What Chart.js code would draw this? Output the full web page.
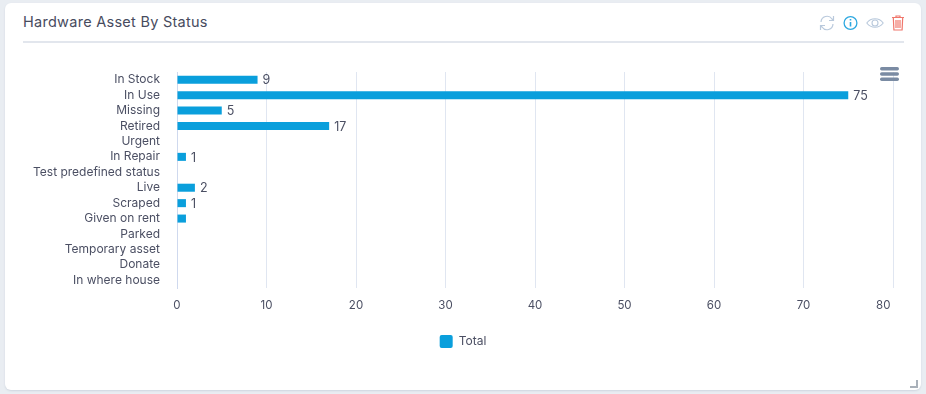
<!DOCTYPE html>
<html>
<head>
<meta charset="utf-8">
<title>Hardware Asset By Status</title>
<script src="https://cdn.jsdelivr.net/npm/chart.js@4"></script>
<style>
    html, body { margin: 0; padding: 0; width: 926px; height: 394px; overflow: hidden; background: #e9edf2; font-family: Inter, sans-serif; }
    .card { position: absolute; left: 5px; top: 3px; width: 916px; height: 387px; background: #fff; border-radius: 6px; box-shadow: 0 1px 2px #cfd6df; }
    .title { position: absolute; left: 23px; top: 12px; font-size: 14.5px; line-height: 20px; color: #474b5e; letter-spacing: .27px; white-space: nowrap; }
    .divider { position: absolute; left: 23px; top: 41px; width: 881px; height: 2px; background: #e2e6ed; }
    .chart-box { position: absolute; left: 0; top: 0; width: 926px; height: 394px; }
    .icon { position: absolute; top: 14px; }
    .menu { position: absolute; left: 880px; top: 66px; }
    .grip { position: absolute; left: 910px; top: 380px; }
</style>
</head>
<body>
<div class="card"></div>
<div class="title">Hardware Asset By Status</div>
<div class="divider"></div>
<div class="chart-box"><canvas id="statusChart" width="926" height="394"></canvas></div>

<!-- 상단 아이콘 -->
<svg class="icon" style="left:819px" width="16" height="18" viewBox="0 0 16 18" fill="none" stroke="#b9c9dc" stroke-width="1.2">
    <path d="M2 8a6 6 0 0 1 11-3l1.5 1.5M14.5 2v4.5H10M14 10a6 6 0 0 1-11 3l-1.5-1.5M1.5 16v-4.5H6"/>
</svg>
<svg class="icon" style="left:843px" width="15" height="18" viewBox="0 0 15 18" fill="none" stroke="#2da8e0" stroke-width="1.3">
    <circle cx="7.5" cy="9" r="6.4"/><path d="M7.5 8v4.5M7.5 5v1.5" stroke-width="1.6"/>
</svg>
<svg class="icon" style="left:866px" width="18" height="18" viewBox="0 0 18 18" fill="none" stroke="#b9c9dc" stroke-width="1.1">
    <path d="M.8 9C3 6 6 4.8 9 4.8S15 6 17.2 9C15 12 12 13.2 9 13.2S3 12 .8 9z"/><circle cx="9" cy="9" r="3"/>
</svg>
<svg class="icon" style="left:891px" width="14" height="18" viewBox="0 0 14 18" fill="none" stroke="#f0776c" stroke-width="1.2">
    <path d="M1 3.5h12M5 3.5V2h4v1.5M2.3 3.5l.6 12.5h8.2l.6-12.5M5 6v8M7 6v8M9 6v8"/>
</svg>
<svg class="menu" width="20" height="16" viewBox="0 0 20 16" fill="#7a8ba3">
    <rect y="1" width="19" height="3.4" rx="1.7"/><rect y="6.3" width="19" height="3.4" rx="1.7"/><rect y="11.6" width="19" height="3.4" rx="1.7"/>
</svg>
<svg class="grip" width="8" height="8" viewBox="0 0 8 8" fill="#a9b1ba"><path d="M6 0h2v8H0V6h6z"/></svg>

<script>
// 차트 데이터
const categories = ['In Stock', 'In Use', 'Missing', 'Retired', 'Urgent', 'In Repair', 'Test predefined status',
    'Live', 'Scraped', 'Given on rent', 'Parked', 'Temporary asset', 'Donate', 'In where house'];
const totals = [9, 75, 5, 17, 0, 1, 0, 2, 1, 1, 0, 0, 0, 0];
const valueLabels = ['9', '75', '5', '17', '', '1', '', '2', '1', '', '', '', '', ''];
const xTicks = [0, 10, 20, 30, 40, 50, 60, 70, 80];

const textColor = '#4b4f63';
const gridColor = '#e0e6f1';
const barColor = '#0a9fdc';

// 막대 끝에 값 표시
const valueLabelPlugin = {
    id: 'valueLabels',
    afterDatasetsDraw(chart) {
        const ctx = chart.ctx;
        const x = chart.scales.x;
        const y = chart.scales.y;
        ctx.save();
        ctx.font = '12.5px Inter, sans-serif';
        ctx.fillStyle = textColor;
        ctx.textBaseline = 'middle';
        ctx.textAlign = 'left';
        valueLabels.forEach(function (label, i) {
            if (label) {
                ctx.fillText(label, x.getPixelForValue(totals[i]) + 5, y.getPixelForValue(i) + 1);
            }
        });
        ctx.restore();
    }
};

new Chart(document.getElementById('statusChart'), {
    type: 'bar',
    data: {
        labels: categories,
        datasets: [{
            label: 'Total',
            data: totals,
            backgroundColor: barColor,
            barPercentage: 0.52,
            categoryPercentage: 1
        }]
    },
    options: {
        indexAxis: 'y',
        responsive: false,
        animation: false,
        layout: { padding: { left: 33, right: 33, top: 72, bottom: 36 } },
        plugins: {
            tooltip: { enabled: false },
            legend: {
                position: 'bottom',
                labels: {
                    color: textColor,
                    font: { family: 'Inter, sans-serif', size: 12 },
                    boxWidth: 13,
                    boxHeight: 13,
                    useBorderRadius: true,
                    borderRadius: 2,
                    padding: 10
                }
            }
        },
        scales: {
            x: {
                min: 0,
                max: 80,
                afterBuildTicks(scale) {
                    scale.ticks = xTicks.map(function (v) { return { value: v }; });
                },
                afterFit(scale) { scale.height = 37; },
                grid: { color: gridColor, drawTicks: false },
                border: { display: false },
                ticks: {
                    color: textColor,
                    font: { family: 'Inter, sans-serif', size: 11.5 },
                    padding: 11,
                    maxRotation: 0,
                    autoSkip: false,
                    // 마지막 눈금 글자는 왼쪽으로 밀려 있음
                    callback: function (v) { return v === 80 ? '80      ' : String(v); }
                }
            },
            y: {
                afterFit(scale) { scale.width = 144; },
                grid: { display: false, drawTicks: false },
                border: { color: '#cfd9ee' },
                ticks: {
                    color: textColor,
                    font: { family: 'Inter, sans-serif', size: 12 },
                    padding: 17,
                    autoSkip: false
                }
            }
        }
    },
    plugins: [valueLabelPlugin]
});
</script>
</body>
</html>
